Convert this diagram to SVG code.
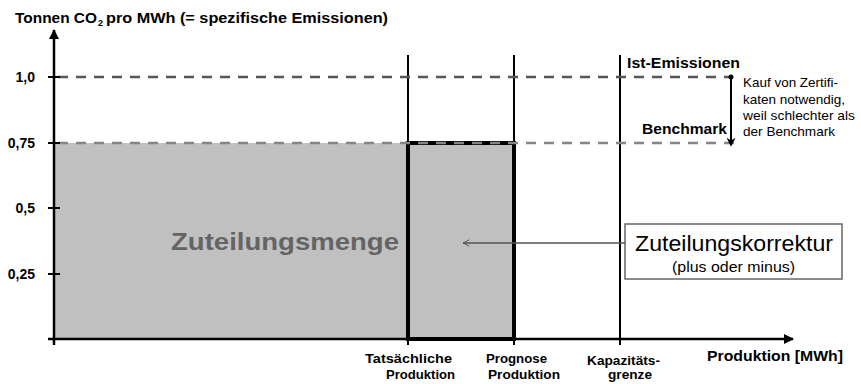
<svg xmlns="http://www.w3.org/2000/svg" width="861" height="384" viewBox="0 0 861 384">
<defs>
<style>
.b{font-family:"Liberation Sans",Arial,sans-serif;font-weight:bold;fill:#000}
.n{font-family:"Liberation Sans",Arial,sans-serif;fill:#000}
.ax{stroke:#000;stroke-width:2.5;fill:none}
.v{stroke:#000;stroke-width:2;fill:none}
.tk{stroke:#000;stroke-width:2}
</style>
<marker id="ah" viewBox="0 0 10 10" refX="9" refY="5" markerWidth="4" markerHeight="4" orient="auto"><path d="M0,0 L10,5 L0,10 z" fill="#000"/></marker>
<marker id="ah2" viewBox="0 0 10 10" refX="8" refY="5" markerWidth="4.5" markerHeight="4.5" orient="auto"><path d="M0,0 L10,5 L0,10 L3,5 z" fill="#000"/></marker>
<marker id="oa" viewBox="0 0 10 10" refX="9" refY="5" markerWidth="8" markerHeight="8" markerUnits="userSpaceOnUse" orient="auto"><path d="M1,1 L9,5 L1,9" fill="none" stroke="#555" stroke-width="1.2"/></marker>
</defs>
<rect width="861" height="384" fill="#fff"/>

<g id="area">
<rect x="54" y="143" width="354" height="196" fill="#c0c0c0"/>
<text class="b" x="171" y="250" font-size="24" style="fill:#646464" textLength="228" lengthAdjust="spacingAndGlyphs">Zuteilungsmenge</text>
</g>

<g id="verticals">
<line class="v" x1="408" y1="55" x2="408" y2="345"/>
<line class="v" x1="514" y1="55" x2="514" y2="345"/>
<line class="v" x1="620" y1="55" x2="620" y2="345"/>
</g>

<g id="correction-rect">
<rect x="408" y="143" width="106" height="196" fill="#c0c0c0" stroke="#000" stroke-width="4"/>
</g>

<g id="levels">
<line x1="58" y1="77" x2="731" y2="77" stroke="#555" stroke-width="2.5" stroke-dasharray="10,8"/>
<line x1="58" y1="143" x2="736" y2="143" stroke="#858585" stroke-width="2.5" stroke-dasharray="10,8"/>
</g>

<g id="axes">
<line class="ax" x1="54" y1="345" x2="54" y2="30" marker-end="url(#ah)"/>
<line class="ax" x1="48" y1="339" x2="793" y2="339" marker-end="url(#ah)"/>
<line class="tk" x1="48" y1="77" x2="60" y2="77"/>
<line class="tk" x1="48" y1="143" x2="60" y2="143"/>
<line class="tk" x1="48" y1="208" x2="60" y2="208"/>
<line class="tk" x1="48" y1="274" x2="60" y2="274"/>
</g>

<g id="labels">
<text class="b" x="15" y="23" font-size="15" textLength="82" lengthAdjust="spacingAndGlyphs">Tonnen CO</text>
<text class="b" x="98" y="26" font-size="9">2</text>
<text class="b" x="106" y="23" font-size="15" textLength="282" lengthAdjust="spacingAndGlyphs">pro MWh (= spezifische Emissionen)</text>
<text class="b" x="35" y="82" font-size="14" text-anchor="end">1,0</text>
<text class="b" x="35" y="148" font-size="14" text-anchor="end">0,75</text>
<text class="b" x="35" y="213" font-size="14" text-anchor="end">0,5</text>
<text class="b" x="35" y="279" font-size="14" text-anchor="end">0,25</text>
<text class="b" x="365" y="363" font-size="13" textLength="87" lengthAdjust="spacingAndGlyphs">Tatsächliche</text>
<text class="b" x="386" y="379" font-size="13" textLength="69" lengthAdjust="spacingAndGlyphs">Produktion</text>
<text class="b" x="486" y="363" font-size="13" textLength="61" lengthAdjust="spacingAndGlyphs">Prognose</text>
<text class="b" x="488" y="379" font-size="13" textLength="72" lengthAdjust="spacingAndGlyphs">Produktion</text>
<text class="b" x="587" y="365" font-size="13" textLength="73" lengthAdjust="spacingAndGlyphs">Kapazitäts-</text>
<text class="b" x="608" y="379" font-size="13" textLength="44" lengthAdjust="spacingAndGlyphs">grenze</text>
<text class="b" x="707" y="361" font-size="14" textLength="136" lengthAdjust="spacingAndGlyphs">Produktion [MWh]</text>
<text class="b" x="627" y="68" font-size="14" textLength="113" lengthAdjust="spacingAndGlyphs">Ist-Emissionen</text>
<text class="b" x="642" y="134" font-size="14" textLength="85" lengthAdjust="spacingAndGlyphs">Benchmark</text>
</g>

<g id="purchase">
<circle cx="731" cy="77" r="2.5" fill="#000"/>
<line x1="731" y1="77" x2="731" y2="145" stroke="#000" stroke-width="2" marker-end="url(#ah2)"/>
<text class="n" x="743" y="87" font-size="13" textLength="95" lengthAdjust="spacingAndGlyphs">Kauf von Zertifi-</text>
<text class="n" x="743" y="103.5" font-size="13" textLength="102" lengthAdjust="spacingAndGlyphs">katen notwendig,</text>
<text class="n" x="743" y="120" font-size="13" textLength="112" lengthAdjust="spacingAndGlyphs">weil schlechter als</text>
<text class="n" x="743" y="136" font-size="13" textLength="92" lengthAdjust="spacingAndGlyphs">der Benchmark</text>
</g>

<g id="korrektur">
<rect x="625" y="224" width="217" height="55" fill="#fff" stroke="#666" stroke-width="1.5"/>
<text class="n" x="635" y="251" font-size="22" textLength="198" lengthAdjust="spacingAndGlyphs">Zuteilungskorrektur</text>
<text class="n" x="672" y="272" font-size="14" textLength="123" lengthAdjust="spacingAndGlyphs">(plus oder minus)</text>
</g>

<g id="connectors">
<line x1="625" y1="243" x2="463" y2="243" stroke="#555" stroke-width="1.5" marker-end="url(#oa)"/>
</g>
</svg>
